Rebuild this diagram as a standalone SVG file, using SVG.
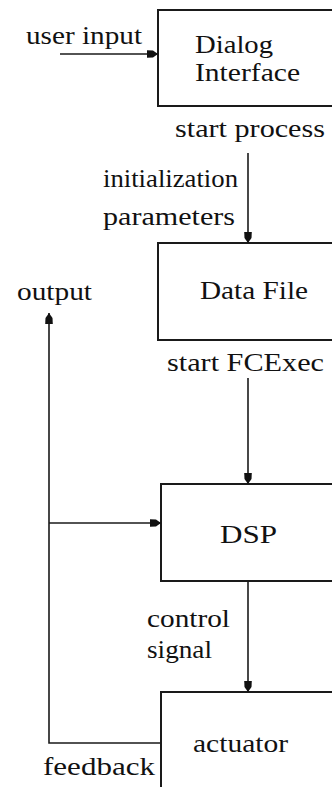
<svg xmlns="http://www.w3.org/2000/svg" width="332" height="787" viewBox="0 0 332 787">
<style>
  .box { fill: #fff; stroke: #1a1a1a; stroke-width: 2; }
  .ln { fill: none; stroke: #1a1a1a; stroke-width: 1.6; }
</style>
<defs>
  <marker id="arr" markerUnits="userSpaceOnUse" markerWidth="12" markerHeight="10" refX="11" refY="5" orient="auto">
    <path d="M0,1.2 L6,1.5 L11,5 L6,8.5 L0,8.8 Z" fill="#111"/>
  </marker>
</defs>
<rect width="332" height="787" fill="#fff"/>
<g font-family="Liberation Serif, DejaVu Serif, serif" font-size="26" fill="#111">
<g id="dialog">
  <rect class="box" x="158" y="10" width="200" height="96"/>
  <text x="195" y="53" textLength="78" lengthAdjust="spacingAndGlyphs">Dialog</text>
  <text x="195" y="81" textLength="105" lengthAdjust="spacingAndGlyphs">Interface</text>
</g>
<g id="datafile">
  <rect class="box" x="158" y="243" width="200" height="97"/>
  <text x="200" y="299" textLength="108" lengthAdjust="spacingAndGlyphs">Data File</text>
</g>
<g id="dsp">
  <rect class="box" x="161" y="484" width="200" height="97"/>
  <text x="220" y="543" textLength="57" lengthAdjust="spacingAndGlyphs">DSP</text>
</g>
<g id="actuator">
  <rect class="box" x="161" y="692" width="200" height="120"/>
  <text x="193" y="752" textLength="95" lengthAdjust="spacingAndGlyphs">actuator</text>
</g>
<g id="connectors">
  <line class="ln" x1="60" y1="54" x2="158" y2="54" marker-end="url(#arr)"/>
  <line class="ln" x1="248" y1="153" x2="248" y2="243" marker-end="url(#arr)"/>
  <line class="ln" x1="248" y1="378" x2="248" y2="484" marker-end="url(#arr)"/>
  <line class="ln" x1="248" y1="581" x2="248" y2="692" marker-end="url(#arr)"/>
  <path class="ln" d="M161,743 H49 V313" marker-end="url(#arr)"/>
  <line class="ln" x1="49" y1="523" x2="161" y2="523" marker-end="url(#arr)"/>
</g>
<g id="labels">
  <text x="26" y="44" textLength="116" lengthAdjust="spacingAndGlyphs">user input</text>
  <text x="175" y="137" textLength="150" lengthAdjust="spacingAndGlyphs">start process</text>
  <text x="103" y="187" textLength="135" lengthAdjust="spacingAndGlyphs">initialization</text>
  <text x="103" y="225" textLength="132" lengthAdjust="spacingAndGlyphs">parameters</text>
  <text x="17" y="300" textLength="75" lengthAdjust="spacingAndGlyphs">output</text>
  <text x="167" y="371" textLength="157" lengthAdjust="spacingAndGlyphs">start FCExec</text>
  <text x="147" y="627" textLength="83" lengthAdjust="spacingAndGlyphs">control</text>
  <text x="147" y="658" textLength="65" lengthAdjust="spacingAndGlyphs">signal</text>
  <text x="43" y="775" textLength="112" lengthAdjust="spacingAndGlyphs">feedback</text>
</g>
</g>
</svg>
